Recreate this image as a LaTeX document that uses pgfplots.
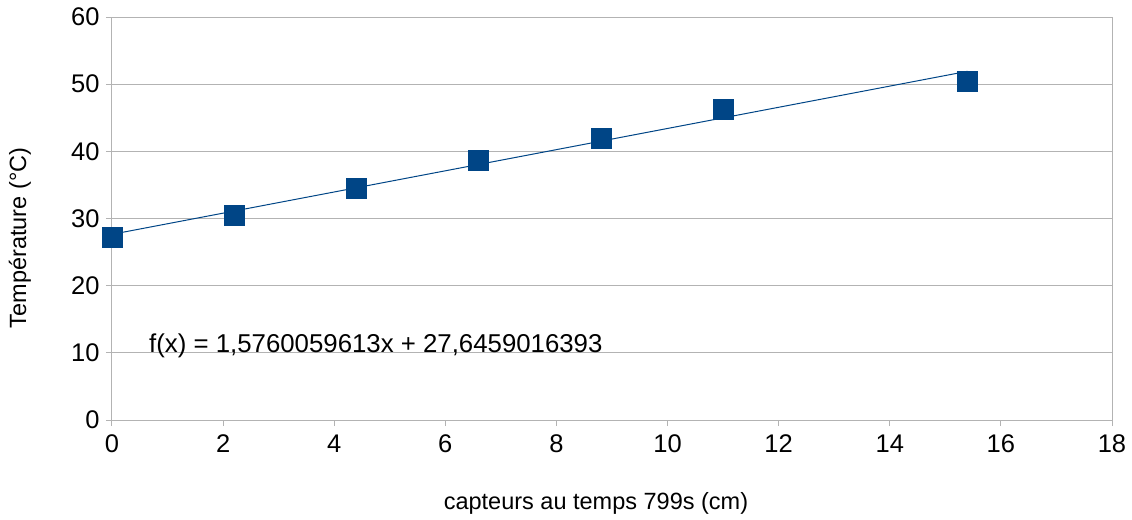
\documentclass[border=0pt]{standalone}
\usepackage{pgfplots}
\pgfplotsset{compat=1.18}
\usepackage{fontspec}
\setmainfont{Liberation Sans}
\definecolor{lobl}{HTML}{004586}
\definecolor{grd}{HTML}{B3B3B3}
\begin{document}
\begin{tikzpicture}
\begin{axis}[
  scale only axis,
  width=1000pt, height=403pt,
  xmin=0, xmax=18, ymin=0, ymax=60,
  xtick={0,2,...,18}, ytick={0,10,...,60},
  ymajorgrids, grid style={grd, line width=1pt},
  axis line style={grd, line width=1pt},
  tick style={grd, line width=1pt},
  tick align=outside, major tick length=6pt,
  xtick pos=bottom, ytick pos=left,
  /pgf/number format/assume math mode=true,
  ticklabel style={font=\fontsize{25.5}{28}\selectfont, text=black},
  xticklabel style={yshift=-5pt},
  yticklabel style={xshift=-3pt},
  xlabel={capteurs au temps 799s (cm)},
  ylabel={Température (°C)},
  label style={font=\fontsize{23.5}{27}\selectfont},
  xlabel style={at={(axis description cs:0.484,-0.206)}, anchor=center},
  ylabel style={at={(axis description cs:-0.092,0.452)}, anchor=center, rotate=0},
  clip=false,
]
\coordinate (bbsw) at (rel axis cs:-0.112,-0.248);
\coordinate (bbne) at (rel axis cs:1.02,1.0422);
% trend line
\addplot[lobl, line width=1pt, no marks] coordinates {(0,27.6459016393) (15.4,51.9183934433)};
% data
\addplot[only marks, mark=square*, mark size=10pt, mark options={fill=lobl, draw=lobl}] coordinates {
(0,27.25) (2.2,30.5) (4.4,34.5) (6.6,38.7) (8.8,42.0) (11,46.3) (15.4,50.5)};
\node[anchor=west, font=\fontsize{25.8}{28}\selectfont, inner sep=0pt] at (axis cs:0.666,11.0) {f(x) = 1,5760059613x + 27,6459016393};
\end{axis}
\pgfresetboundingbox
\path[use as bounding box] (bbsw) rectangle (bbne);
\end{tikzpicture}
\end{document}
